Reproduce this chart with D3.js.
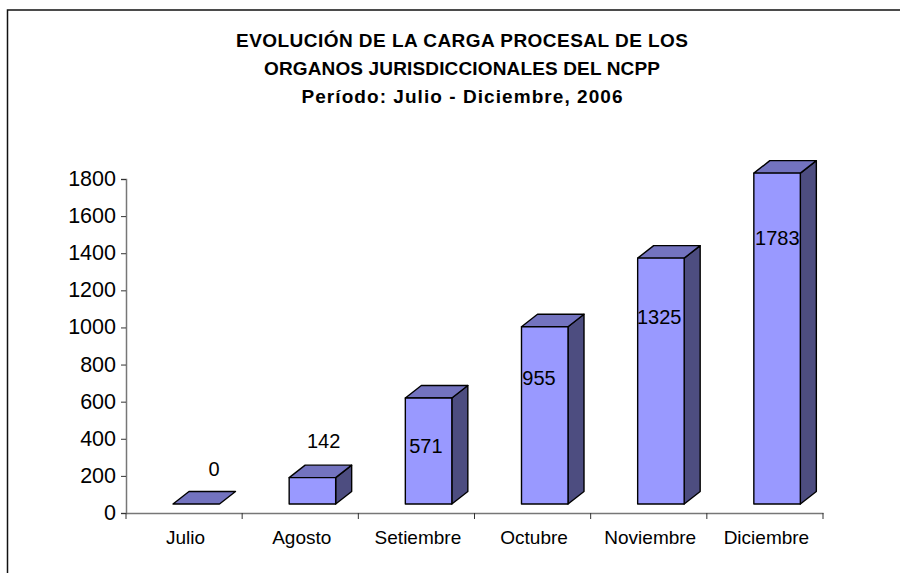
<!DOCTYPE html>
<html>
<head>
<meta charset="utf-8">
<script src="https://cdn.jsdelivr.net/npm/d3@7.9.0/dist/d3.min.js"></script>
<style>
  html, body { margin: 0; padding: 0; background: #fff; }
  svg { display: block; font-family: "Liberation Sans", Arial, sans-serif; }
</style>
</head>
<body>
<svg id="chart" width="900" height="573"></svg>
<script>
const titleLines = [
  "EVOLUCIÓN DE LA CARGA PROCESAL DE LOS",
  "ORGANOS JURISDICCIONALES DEL NCPP",
  "Período: Julio - Diciembre, 2006"
];
const months = ["Julio", "Agosto", "Setiembre", "Octubre", "Noviembre", "Diciembre"];
const values = [0, 142, 571, 955, 1325, 1783];
const yTicks = [0, 200, 400, 600, 800, 1000, 1200, 1400, 1600, 1800];

// hand placed labels in the original, distance from the top of the front face
const labelOffsets = [-35, -37, 48, 51, 59, 65];
const labelShift = [17.5, 11, -3, -6, -2, 0];
// title lines are stretched a bit in the original
const titleWidths = [452, 396, 321];

const svg = d3.select("#chart");

// only the top and left of the frame show in the picture
svg.append("path")
  .attr("d", "M7.5,573V10H900")
  .attr("fill", "none")
  .attr("stroke", "#111")
  .attr("stroke-width", 1.5);

// ---------- SCALES ----------

const x = d3.scaleBand().domain(months).range([126, 823]);
const y = d3.scaleLinear().domain([0, 1800]).range([513, 179]);

const floorLift = 9;   // bars stand above the axis in the 3d floor
const barInset = 47;
const barWidth = 46.5;
const depthX = 16;
const depthY = 12.5;

// ---------- TITLE ----------

svg.append("g").selectAll("text")
  .data(titleLines)
  .join("text")
  .attr("x", 462)
  .attr("y", (_, i) => 46.5 + i * 28)
  .attr("text-anchor", "middle")
  .attr("font-size", "19px")
  .attr("font-weight", "bold")
  .attr("fill", "#000")
  .attr("textLength", (_, i) => titleWidths[i])
  .attr("lengthAdjust", "spacing")
  .text(d => d);

// ---------- AXES ----------

const yAxis = d3.axisLeft(y).tickValues(yTicks).tickFormat(d3.format("d")).tickSize(5).tickPadding(5);
const yG = svg.append("g").attr("transform", "translate(126,0)").call(yAxis);
yG.select(".domain").attr("stroke", "#777").attr("stroke-width", 1.5);
yG.selectAll(".tick line").attr("stroke", "#333");
yG.selectAll(".tick text")
  .attr("font-size", "21.5px")
  .attr("fill", "#000")
  .attr("dy", "0.3em");

const xAxis = d3.axisBottom(x).tickSize(0).tickPadding(18);
const xG = svg.append("g").attr("transform", "translate(0,513)").call(xAxis);
xG.select(".domain").attr("stroke", "#777").attr("stroke-width", 1.5);
xG.selectAll(".tick text")
  .attr("font-size", "19px")
  .attr("fill", "#000")
  .attr("dx", 1.5);

// ticks sit between the categories
xG.selectAll(".edge")
  .data(d3.range(months.length + 1))
  .join("line")
  .attr("class", "edge")
  .attr("x1", i => 126 + i * x.bandwidth())
  .attr("x2", i => 126 + i * x.bandwidth())
  .attr("y1", 0)
  .attr("y2", 6)
  .attr("stroke", "#333");

// ---------- BARS ----------

const bars = svg.append("g")
  .selectAll("g")
  .data(months.map((m, i) => ({ month: m, value: values[i], i })))
  .join("g")
  .attr("stroke", "#000")
  .attr("stroke-width", 1.4)
  .attr("stroke-linejoin", "round");

const left = d => x(d.month) + barInset;
const top_ = d => y(d.value) - floorLift;
const base = () => y(0) - floorLift;

bars.filter(d => d.value > 0).append("path")
  .attr("fill", "#4d4d80")
  .attr("d", d => {
    const r = left(d) + barWidth;
    return `M${r},${top_(d)}L${r + depthX},${top_(d) - depthY}V${base() - depthY}L${r},${base()}Z`;
  });

bars.append("path")
  .attr("fill", "#7373bf")
  .attr("d", d => {
    const l = left(d), t = top_(d);
    return `M${l},${t}L${l + depthX},${t - depthY}H${l + barWidth + depthX}L${l + barWidth},${t}Z`;
  });

bars.filter(d => d.value > 0).append("rect")
  .attr("fill", "#9999ff")
  .attr("x", left)
  .attr("y", top_)
  .attr("width", barWidth)
  .attr("height", d => base() - top_(d));

// ---------- LABELS ----------

svg.append("g").selectAll("text")
  .data(values)
  .join("text")
  .attr("x", (_, i) => x(months[i]) + 70.5 + labelShift[i])
  .attr("y", (d, i) => y(d) - floorLift + labelOffsets[i] + 7)
  .attr("text-anchor", "middle")
  .attr("font-size", "20px")
  .attr("fill", "#000")
  .text(d => d);
</script>
</body>
</html>
